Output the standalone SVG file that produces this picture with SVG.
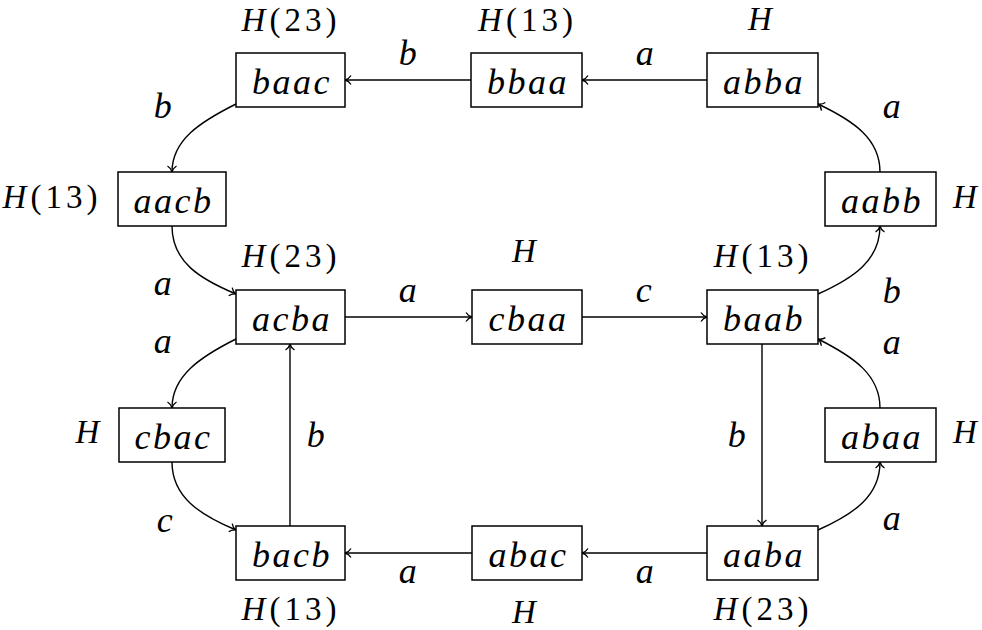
<svg xmlns="http://www.w3.org/2000/svg" width="982" height="630" viewBox="0 0 982 630">
<style>
.box{fill:#fff;stroke:#000;stroke-width:1.5}
.t{font-family:"Liberation Serif","Times New Roman",serif;font-style:italic;font-size:36px;letter-spacing:2.5px;text-anchor:middle;fill:#000}
.h{font-family:"Liberation Serif","Times New Roman",serif;font-style:italic;font-size:33px;letter-spacing:4px;text-anchor:middle;fill:#000}
.r{font-style:normal}
.e{fill:none;stroke:#000;stroke-width:1.4;marker-end:url(#arr)}
</style>
<defs>
<marker id="arr" markerUnits="userSpaceOnUse" markerWidth="20" markerHeight="20" refX="0" refY="0" viewBox="-10 -10 20 20" orient="auto" overflow="visible">
<path d="M-6,-4.5 C-4.5,-2 -2,-0.5 0,0 C-2,0.5 -4.5,2 -6,4.5" fill="none" stroke="#000" stroke-width="1.3"/>
</marker>
</defs>
<g id="edges">
<path class="e" d="M471,80 L345,80"/>
<path class="e" d="M707,80 L582,80"/>
<path class="e" d="M236,104 C200,122 172,140 172,172"/>
<path class="e" d="M172,226 C172,262 200,279 236,294"/>
<path class="e" d="M236,339 C200,357 172,376 172,408"/>
<path class="e" d="M172,462 C172,497 200,515 236,530"/>
<path class="e" d="M345,317 L472,317"/>
<path class="e" d="M582,317 L707,317"/>
<path class="e" d="M818,294 C854,278 880,260 880,226"/>
<path class="e" d="M880,172 C880,139 854,121 818,104"/>
<path class="e" d="M880,408 C880,375 854,357 818,339"/>
<path class="e" d="M818,530 C854,514 880,496 880,462"/>
<path class="e" d="M762,344 L762,526"/>
<path class="e" d="M290,526 L290,344"/>
<path class="e" d="M707,553 L582,553"/>
<path class="e" d="M472,553 L345,553"/>
<text class="t" x="409" y="65">b</text>
<text class="t" x="646" y="65">a</text>
<text class="t" x="164" y="118">b</text>
<text class="t" x="893" y="118">a</text>
<text class="t" x="164" y="295">a</text>
<text class="t" x="164" y="353">a</text>
<text class="t" x="409" y="302">a</text>
<text class="t" x="645" y="302">c</text>
<text class="t" x="893" y="303">b</text>
<text class="t" x="893" y="354">a</text>
<text class="t" x="738" y="447">b</text>
<text class="t" x="317" y="447">b</text>
<text class="t" x="893" y="530">a</text>
<text class="t" x="166" y="532">c</text>
<text class="t" x="409" y="583">a</text>
<text class="t" x="646" y="583">a</text>
</g>
<g id="baac"><rect class="box" x="236" y="53" width="109" height="54"/><text class="t" x="292" y="93.5">baac</text><text class="h" x="291" y="31">H<tspan class="r">(23)</tspan></text></g>
<g id="bbaa"><rect class="box" x="471" y="53" width="111" height="54"/><text class="t" x="528" y="93.5">bbaa</text><text class="h" x="527.5" y="31">H<tspan class="r">(13)</tspan></text></g>
<g id="abba"><rect class="box" x="707" y="53" width="111" height="54"/><text class="t" x="764" y="93.5">abba</text><text class="h" x="762" y="30">H</text></g>
<g id="aacb"><rect class="box" x="118" y="172" width="108" height="54"/><text class="t" x="173.5" y="212.5">aacb</text><text class="h" x="52" y="208">H<tspan class="r">(13)</tspan></text></g>
<g id="aabb"><rect class="box" x="825" y="172" width="111" height="54"/><text class="t" x="882" y="212.5">aabb</text><text class="h" x="967" y="208">H</text></g>
<g id="acba"><rect class="box" x="236" y="290" width="109" height="54"/><text class="t" x="292" y="330.5">acba</text><text class="h" x="291" y="267">H<tspan class="r">(23)</tspan></text></g>
<g id="cbaa"><rect class="box" x="472" y="290" width="110" height="54"/><text class="t" x="528.5" y="330.5">cbaa</text><text class="h" x="526" y="262">H</text></g>
<g id="baab"><rect class="box" x="707" y="290" width="111" height="54"/><text class="t" x="764" y="330.5">baab</text><text class="h" x="763" y="267">H<tspan class="r">(13)</tspan></text></g>
<g id="cbac"><rect class="box" x="119" y="408" width="106" height="54"/><text class="t" x="173.5" y="448.5">cbac</text><text class="h" x="89.5" y="443">H</text></g>
<g id="abaa"><rect class="box" x="825" y="408" width="111" height="54"/><text class="t" x="882" y="448.5">abaa</text><text class="h" x="967" y="443">H</text></g>
<g id="bacb"><rect class="box" x="236" y="526" width="109" height="54"/><text class="t" x="292" y="566.5">bacb</text><text class="h" x="291" y="620">H<tspan class="r">(13)</tspan></text></g>
<g id="abac"><rect class="box" x="472" y="526" width="110" height="54"/><text class="t" x="528.5" y="566.5">abac</text><text class="h" x="526" y="623">H</text></g>
<g id="aaba"><rect class="box" x="707" y="526" width="111" height="54"/><text class="t" x="764" y="566.5">aaba</text><text class="h" x="763" y="620">H<tspan class="r">(23)</tspan></text></g>
</svg>
